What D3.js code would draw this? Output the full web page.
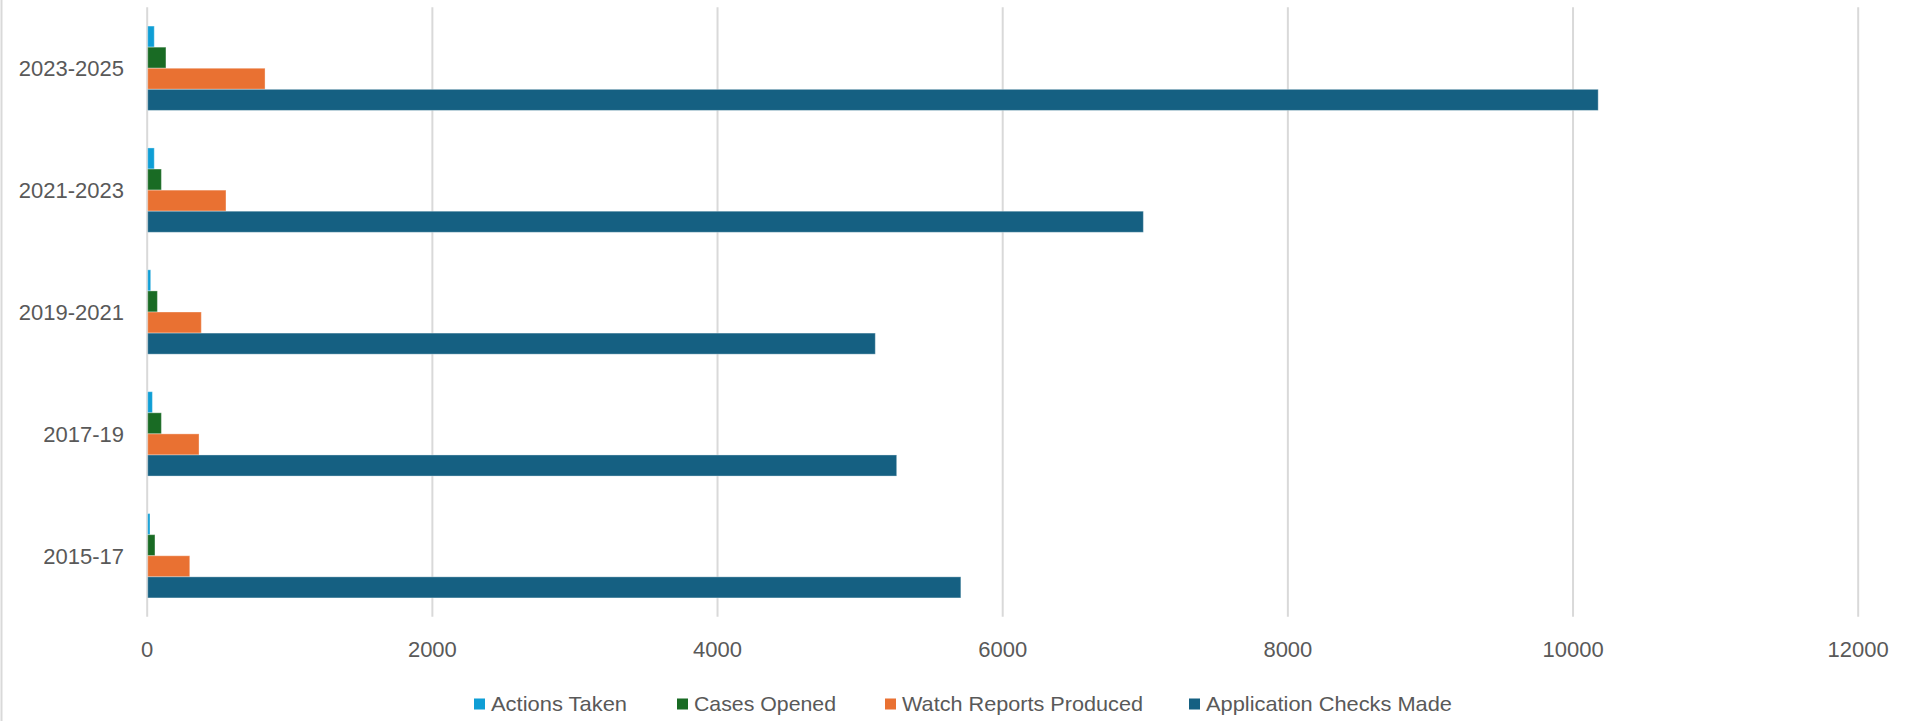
<!DOCTYPE html>
<html>
<head>
<meta charset="utf-8">
<script src="https://cdn.jsdelivr.net/npm/d3@7"></script>
<style>
  html, body { margin: 0; padding: 0; background: #ffffff; }
  svg { display: block; }
</style>
</head>
<body>
<svg id="chart" width="1917" height="721"></svg>
<script>
// Period categories, bottom to top
const categories = ["2015-17", "2017-19", "2019-2021", "2021-2023", "2023-2025"];

// Series names in legend order
const seriesNames = ["Actions Taken", "Cases Opened", "Watch Reports Produced", "Application Checks Made"];

// Values per category (same order as categories)
const actionsTaken      = [23, 40, 28, 53, 53];
const casesOpened       = [58, 103, 75, 103, 135];
const watchReports      = [302, 367, 383, 556, 830];
const applicationChecks = [5710, 5260, 5110, 6990, 10180];

// Value axis ticks
const xTicks = [0, 2000, 4000, 6000, 8000, 10000, 12000];

const seriesValues = [actionsTaken, casesOpened, watchReports, applicationChecks];
const seriesColors = ["#0F9ED5", "#196B24", "#E97132", "#156082"];

const W = 1917, H = 721;
const plot = { left: 146.7, right: 1857.7, top: 7.3, bottom: 616.7 };
const textColor = "#595959";
const gridColor = "#d9d9d9";
const font = "'Liberation Sans', Arial, sans-serif";

const svg = d3.select("#chart");

const x = d3.scaleLinear().domain([0, 12000]).range([plot.left, plot.right]);

// Top category first so the newest period sits at the top
const y = d3.scaleBand()
  .domain(categories.slice().reverse())
  .range([plot.top, plot.bottom])
  .paddingInner(0).paddingOuter(0);

const ySub = d3.scaleBand()
  .domain(seriesNames)
  .range([0, y.bandwidth()])
  .paddingInner(0)
  .paddingOuter(0.89);

// Outer frame edge on the left
svg.append("line")
  .attr("x1", 1.5).attr("x2", 1.5)
  .attr("y1", 0).attr("y2", H)
  .attr("stroke", gridColor).attr("stroke-width", 2);

// Vertical gridlines from the value axis
const xAxis = d3.axisBottom(x)
  .tickValues(xTicks)
  .tickSize(-(plot.bottom - plot.top))
  .tickFormat(d3.format("d"))
  .tickPadding(22);

const gx = svg.append("g")
  .attr("transform", `translate(0,${plot.bottom})`)
  .call(xAxis);
gx.select(".domain").remove();
gx.selectAll(".tick line")
  .attr("stroke", gridColor)
  .attr("stroke-width", 2);
gx.selectAll(".tick text")
  .attr("fill", textColor)
  .attr("font-family", font)
  .attr("font-size", 22)
  .attr("dy", "0.32em")
  .attr("y", 33.5);

// Category axis labels
const yAxis = d3.axisLeft(y).tickSize(0).tickPadding(22.7);
const gy = svg.append("g")
  .attr("transform", `translate(${plot.left},0)`)
  .call(yAxis);
gy.select(".domain").remove();
gy.selectAll(".tick text")
  .attr("fill", textColor)
  .attr("font-family", font)
  .attr("font-size", 22)
  .attr("dy", "0.36em");

// Clustered bars
const rows = categories.map((c, i) => ({
  category: c,
  values: seriesNames.map((s, k) => ({ series: s, value: seriesValues[k][i], color: seriesColors[k] }))
}));

const groups = svg.append("g").selectAll("g")
  .data(rows)
  .join("g")
  .attr("transform", d => `translate(0,${y(d.category)})`);

groups.selectAll("rect")
  .data(d => d.values)
  .join("rect")
  .attr("x", x(0) + 1)
  .attr("y", d => ySub(d.series))
  .attr("width", d => Math.max(0, x(d.value) - x(0) - 1))
  .attr("height", ySub.bandwidth())
  .attr("fill", d => d.color)
  .attr("stroke", "#ffffff")
  .attr("stroke-opacity", 0.35)
  .attr("stroke-width", 1);

// Legend
const legendX = [474, 677, 885, 1189];
const legendTextWidth = [136, 142, 241, 246];
const legendY = 704;
const legend = svg.append("g");
seriesNames.forEach((name, k) => {
  legend.append("rect")
    .attr("x", legendX[k]).attr("y", legendY - 5.5)
    .attr("width", 11).attr("height", 11)
    .attr("fill", seriesColors[k]);
  legend.append("text")
    .attr("x", legendX[k] + 17)
    .attr("y", legendY)
    .attr("dy", "0.35em")
    .attr("fill", textColor)
    .attr("font-family", font)
    .attr("font-size", 21)
    .attr("textLength", legendTextWidth[k])
    .attr("lengthAdjust", "spacingAndGlyphs")
    .text(name);
});
</script>
</body>
</html>
